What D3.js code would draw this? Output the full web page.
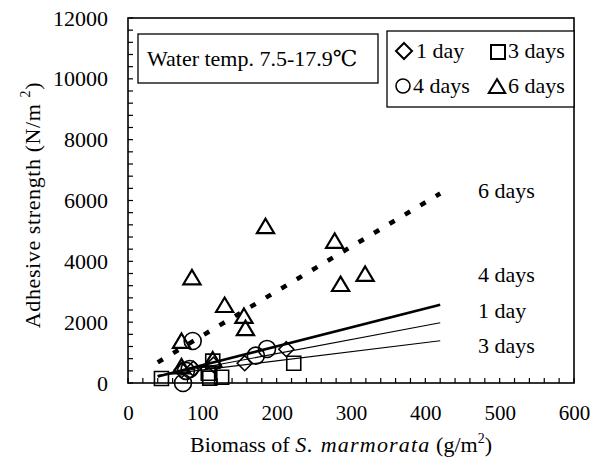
<!DOCTYPE html>
<html><head><meta charset="utf-8">
<script src="https://cdn.jsdelivr.net/npm/d3@7"></script>
<style>
body{margin:0;background:#fff;}
svg text{font-family:"Liberation Serif","Times New Roman","DejaVu Serif",serif !important;fill:#000;}
</style></head>
<body>
<svg id="c" width="591" height="472"></svg>
<script>
// ---- data ----
const xTicks = [0,100,200,300,400,500,600];
const yTicks = [0,2000,4000,6000,8000,10000,12000];
const series = ["1 day","3 days","4 days","6 days"];
const day1 = [[72,420],[88,470],[115,600],[157,650],[213,1110]];
const day3 = [[45,150],[108,320],[110,160],[114,720],[126,190],[223,650]];
const day4 = [[74,0],[78,400],[83,460],[87,1380],[172,900],[187,1120]];
const day6 = [[72,520],[114,750],[72,1360],[86,3450],[130,2540],[156,2180],[158,1780],[185,5130],[278,4650],[286,3230],[319,3560]];
const fitX = [40,420];
const fit6 = [680,6230];
const fit4 = [210,2570];
const fit1 = [230,1980];
const fit3 = [250,1390];
const fitLabels = ["6 days","4 days","1 day","3 days"];
const fitLabelY = [6090,3325,2140,990];
const fitLabelX = 471;

const FONT = '"Liberation Serif","Times New Roman","DejaVu Serif",serif';
const svg = d3.select("#c").attr("font-family",FONT);
const L=128,R=574,T=18,B=383;
const x = d3.scaleLinear().domain([0,600]).range([L,R]);
const y = d3.scaleLinear().domain([0,12000]).range([B,T]);

// frame
svg.append("rect").attr("x",L).attr("y",T).attr("width",R-L).attr("height",B-T)
  .attr("fill","none").attr("stroke","#000").attr("stroke-width",1.6);

// minor inward ticks
const xMinor = d3.range(0,601,20);
svg.append("g").selectAll("line").data(xMinor).join("line")
  .attr("x1",d=>x(d)).attr("x2",d=>x(d)).attr("y1",B).attr("y2",B-5)
  .attr("stroke","#000").attr("stroke-width",1.2);
const yMinor = d3.range(0,12001,400);
svg.append("g").selectAll("line").data(yMinor).join("line")
  .attr("x1",L).attr("x2",L+5).attr("y1",d=>y(d)).attr("y2",d=>y(d))
  .attr("stroke","#000").attr("stroke-width",1.2);

// tick labels via d3 axes (no lines)
const gx = svg.append("g").attr("transform",`translate(0,${B})`)
  .call(d3.axisBottom(x).tickValues(xTicks).tickFormat(d3.format("d")).tickSize(0).tickPadding(22));
gx.attr("font-family",FONT).attr("font-size",21);
gx.select(".domain").remove();
const gy = svg.append("g").attr("transform",`translate(${L},0)`)
  .call(d3.axisLeft(y).tickValues(yTicks).tickFormat(d3.format("d")).tickSize(0).tickPadding(20));
gy.attr("font-family",FONT).attr("font-size",22);
gy.select(".domain").remove();

// axis titles
const xt = svg.append("text").attr("x",341).attr("y",452).attr("text-anchor","middle").attr("font-size",22);
xt.append("tspan").text("Biomass of ");
xt.append("tspan").attr("font-style","italic").attr("letter-spacing",1.2).text("S. marmorata");
xt.append("tspan").text("  (g/m");
xt.append("tspan").attr("dy",-9).attr("font-size",14).text("2");
xt.append("tspan").attr("dy",9).text(")");

const yt = svg.append("text").attr("transform","translate(40,205) rotate(-90)").attr("text-anchor","middle").attr("font-size",22).attr("letter-spacing",0.6);
yt.append("tspan").text("Adhesive strength (N/m ");
yt.append("tspan").attr("dy",-10).attr("font-size",14).text("2");
yt.append("tspan").attr("dy",10).text(")");

// fit lines
const fits = [
  {v:fit6, w:4.5, dash:"6,12"},
  {v:fit4, w:2.6, dash:null},
  {v:fit1, w:1.1, dash:null},
  {v:fit3, w:1.1, dash:null}
];
fits.forEach(f=>{
  const ln = svg.append("line").attr("x1",x(fitX[0])).attr("y1",y(f.v[0]))
    .attr("x2",x(fitX[1])).attr("y2",y(f.v[1])).attr("stroke","#000").attr("stroke-width",f.w);
  if(f.dash) ln.attr("stroke-dasharray",f.dash);
});
svg.append("g").selectAll("text").data(fitLabels).join("text")
  .attr("x",x(fitLabelX)).attr("y",(d,i)=>y(fitLabelY[i])).attr("font-size",22).text(d=>d);

// markers
function shape(type, s){
  if(type==="diamond") return `M0,${-s}L${s},0L0,${s}L${-s},0Z`;
  if(type==="square") return `M${-s},${-s}H${s}V${s}H${-s}Z`;
  if(type==="triangle") return `M0,${-s*1.05}L${s*1.1},${s*0.8}L${-s*1.1},${s*0.8}Z`;
  return null;
}
function draw(data,type,s){
  const g = svg.append("g");
  if(type==="circle"){
    g.selectAll("circle").data(data).join("circle").attr("cx",d=>x(d[0])).attr("cy",d=>y(d[1]))
      .attr("r",s).attr("fill","none").attr("stroke","#000").attr("stroke-width",1.6);
  } else {
    g.selectAll("path").data(data).join("path").attr("transform",d=>`translate(${x(d[0])},${y(d[1])})`)
      .attr("d",shape(type,s)).attr("fill","none").attr("stroke","#000").attr("stroke-width",type==="triangle"?2.2:1.6)
      .attr("stroke-linejoin","miter");
  }
}
draw(day1,"diamond",7.5);
draw(day3,"square",7);
draw(day4,"circle",8.5);
draw(day6,"triangle",7.8);

// box 1
svg.append("rect").attr("x",138).attr("y",34).attr("width",240).attr("height",49)
  .attr("fill","#fff").attr("stroke","#000").attr("stroke-width",1.3);
svg.append("text").attr("x",147).attr("y",66).attr("font-size",22).text("Water temp. 7.5-17.9\u2103");

// legend
svg.append("rect").attr("x",387).attr("y",31).attr("width",R-387).attr("height",76)
  .attr("fill","#fff").attr("stroke","#000").attr("stroke-width",1.3);
const legTypes = ["diamond","square","circle","triangle"];
const legX = [404,498,403,497];
const legY = [51,52,86,87];
const legTX = [416,508,413,508];
const legTY = [58,58,93,93];
series.forEach((s,i)=>{
  const t = legTypes[i];
  if(t==="circle"){
    svg.append("circle").attr("cx",legX[i]).attr("cy",legY[i]).attr("r",7).attr("fill","none").attr("stroke","#000").attr("stroke-width",1.6);
  } else {
    svg.append("path").attr("transform",`translate(${legX[i]},${legY[i]})`)
      .attr("d",shape(t,t==="square"?7:(t==="triangle"?7.5:8))).attr("fill","none").attr("stroke","#000").attr("stroke-width",2);
  }
  svg.append("text").attr("x",legTX[i]).attr("y",legTY[i]).attr("font-size",22).text(s);
});
</script>
</body></html>
